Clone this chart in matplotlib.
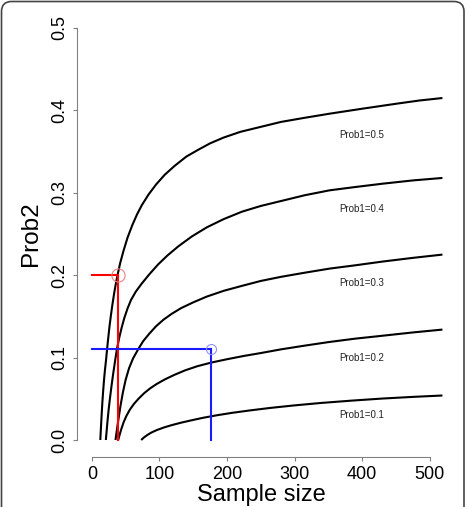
import numpy as np
import matplotlib
matplotlib.use("Agg")
import matplotlib.pyplot as plt
from matplotlib.patches import FancyBboxPatch

plt.rcParams['font.family'] = ['Liberation Sans', 'DejaVu Sans']

# curves: sample size n vs Prob2, one per Prob1
n_05 = [12.5, 13.5, 14.5, 15.5, 16.5, 18, 19.5, 21, 22.5, 24, 26, 28, 30, 33, 36, 38.5, 42, 47, 53, 60,
        67, 74, 84, 95, 108, 123, 140, 157, 175, 195, 220, 250, 280, 315, 352, 400, 450, 485, 519]
p_05 = [0.0, 0.016, 0.031, 0.045, 0.057, 0.073, 0.086, 0.097, 0.11, 0.122, 0.137, 0.15, 0.162, 0.178, 0.192,
        0.202, 0.215, 0.23, 0.246, 0.261, 0.274, 0.285, 0.298, 0.31, 0.322, 0.333, 0.344, 0.352, 0.36, 0.367,
        0.374, 0.38, 0.386, 0.391, 0.396, 0.402, 0.408, 0.412, 0.415]

n_04 = [20.7, 22, 23.5, 25, 27, 29, 31.5, 34, 37, 40.5, 44, 48, 53, 58, 65, 74, 85, 98, 112, 128, 148, 170,
        195, 222, 250, 280, 315, 352, 390, 430, 475, 519]
p_04 = [0.0, 0.012, 0.026, 0.038, 0.052, 0.065, 0.08, 0.094, 0.11, 0.124, 0.136, 0.148, 0.16, 0.17, 0.18,
        0.19, 0.201, 0.213, 0.224, 0.235, 0.247, 0.258, 0.268, 0.277, 0.284, 0.29, 0.297, 0.303, 0.307, 0.311,
        0.315, 0.318]

n_03 = [35, 37, 39.5, 42.5, 46, 50, 55, 61, 68.5, 76, 85, 95, 106, 118, 132, 150, 170, 195, 222, 250, 280,
        315, 352, 390, 430, 475, 519]
p_03 = [0.0, 0.012, 0.026, 0.042, 0.058, 0.073, 0.087, 0.099, 0.11, 0.12, 0.129, 0.138, 0.146, 0.153, 0.16,
        0.167, 0.174, 0.181, 0.187, 0.193, 0.198, 0.203, 0.208, 0.212, 0.2165, 0.221, 0.225]

n_02 = [39, 41, 43.5, 47, 51, 56, 62, 69, 77, 86, 96, 108, 122, 138, 156, 177, 200, 225, 250, 280, 315, 352,
        390, 430, 475, 519]
p_02 = [0.0, 0.006, 0.013, 0.0215, 0.029, 0.0365, 0.0435, 0.05, 0.0565, 0.0625, 0.068, 0.0735, 0.079, 0.0845,
        0.0895, 0.094, 0.098, 0.102, 0.1055, 0.11, 0.1145, 0.119, 0.123, 0.1265, 0.1305, 0.134]

n_01 = [73, 77, 82, 88, 96, 106, 118, 132, 148, 165, 185, 208, 235, 265, 300, 340, 385, 430, 475, 519]
p_01 = [0.0, 0.003, 0.006, 0.009, 0.012, 0.015, 0.018, 0.021, 0.024, 0.027, 0.03, 0.033, 0.036, 0.039,
        0.042, 0.045, 0.0478, 0.0503, 0.0523, 0.054]

curve_labels = ['Prob1=0.5', 'Prob1=0.4', 'Prob1=0.3', 'Prob1=0.2', 'Prob1=0.1']
label_n = 400
label_p = [0.370, 0.280, 0.190, 0.100, 0.030]

# highlighted points
red_n, red_p = 38, 0.2
blue_n, blue_p = 177, 0.11

xticks = [0, 100, 200, 300, 400, 500]
yticks = [0.0, 0.1, 0.2, 0.3, 0.4, 0.5]
ytick_labels = ['0.0', '0.1', '0.2', '0.3', '0.4', '0.5']

fig = plt.figure(figsize=(4.69, 5.07), dpi=100)
ax = fig.add_axes([77/469, 49.7/507, 383/469, 445.8/507])

for n, p in [(n_05, p_05), (n_04, p_04), (n_03, p_03), (n_02, p_02), (n_01, p_01)]:
    ax.plot(n, p, color='black', lw=1.5, solid_capstyle='butt', solid_joinstyle='round')

for txt, yp in zip(curve_labels, label_p):
    ax.text(label_n, yp, txt, fontsize=7, color='#222222', ha='center', va='center')

ax.plot([0, red_n], [red_p, red_p], color='#ff0000', lw=1.5)
ax.plot([red_n, red_n], [0, red_p], color='#ff0000', lw=1.5)
ax.plot([red_n], [red_p], 'o', mfc='none', mec='#f08080', ms=9.5, mew=0.8)

ax.plot([0, blue_n], [blue_p, blue_p], color='#1a1aff', lw=1.5)
ax.plot([blue_n, blue_n], [0, blue_p], color='#1a1aff', lw=1.5)
ax.plot([blue_n], [blue_p], 'o', mfc='none', mec='#9090ff', ms=7.2, mew=0.8)

ax.set_xlim(-22, 545)
ax.set_ylim(-0.021, 0.52)
for s in ['top', 'right']:
    ax.spines[s].set_visible(False)
for s in ['left', 'bottom']:
    ax.spines[s].set_color('#808080')
    ax.spines[s].set_linewidth(0.8)
ax.spines['left'].set_bounds(0, 0.5)
ax.spines['bottom'].set_bounds(0, 500)
ax.set_xticks(xticks)
ax.set_yticks(yticks)
ax.set_yticklabels(ytick_labels, rotation=90, va='center')
ax.tick_params(length=3.2, width=0.8, color='#808080', labelsize=13, pad=3.4)

fig.text(261/469, 1 - 501/507, 'Sample size', ha='center', va='baseline', fontsize=17)
fig.text(31/469, 1 - 234/507, 'Prob2', rotation=90, ha='center', va='center', fontsize=17.5)

frame = FancyBboxPatch((0.015, -0.3), 4.625, 5.355,
                       boxstyle='round,pad=0,rounding_size=0.1',
                       transform=fig.dpi_scale_trans, fill=False,
                       ec='#444444', lw=1.2)
fig.patches.append(frame)

fig.savefig('out.png', dpi=100)
